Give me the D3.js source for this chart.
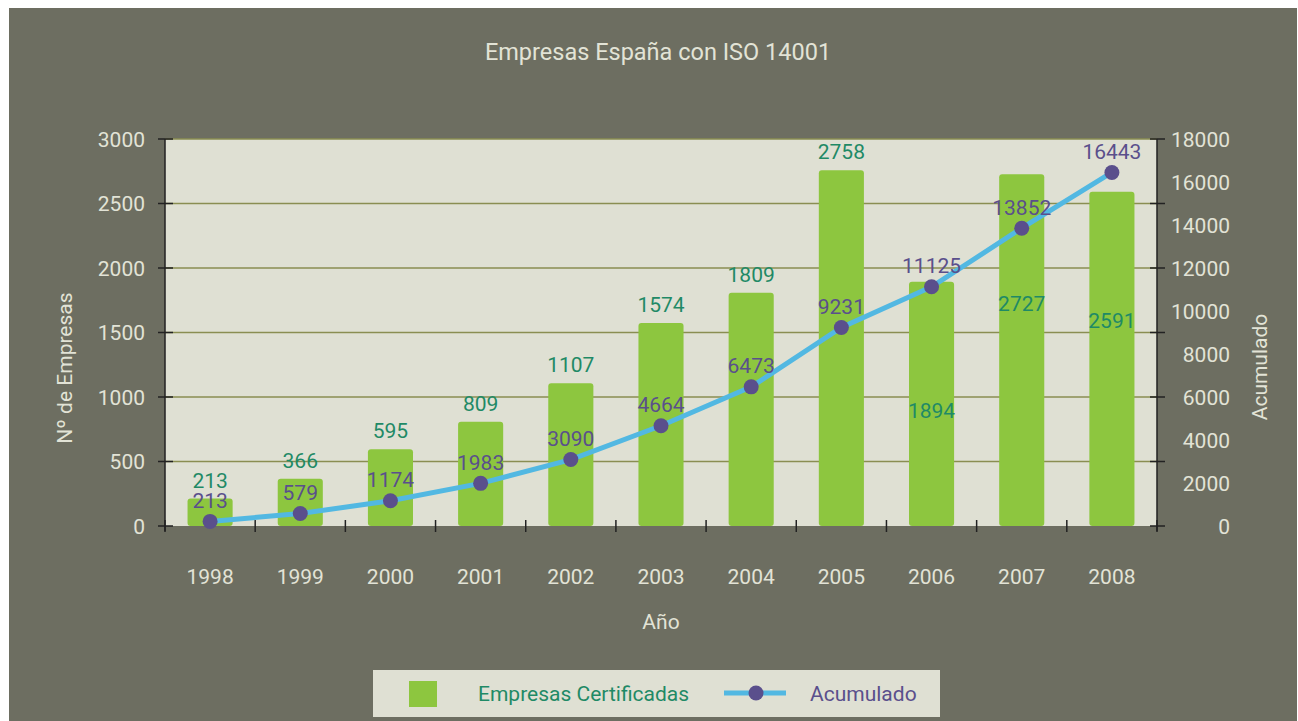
<!DOCTYPE html>
<html>
<head>
<meta charset="utf-8">
<script src="https://cdn.jsdelivr.net/npm/d3@7"></script>
<style>
  html,body{margin:0;padding:0;background:#fff;}
  svg text{font-family:Roboto,"DejaVu Sans Condensed",sans-serif;font-weight:400;}
</style>
</head>
<body>
<div id="chart"></div>
<script>
const anios = ['1998','1999','2000','2001','2002','2003','2004','2005','2006','2007','2008'];
const certificadas = [213,366,595,809,1107,1574,1809,2758,1894,2727,2591];
const acumulado = [213,579,1174,1983,3090,4664,6473,9231,11125,13852,16443];
const ticksIzq = [0,500,1000,1500,2000,2500,3000];
const ticksDer = [0,2000,4000,6000,8000,10000,12000,14000,16000,18000];

const W=1298,H=721;
const m={t:139,l:165,r:141,b:195}, iw=W-m.l-m.r, ih=H-m.t-m.b;
const cTxt='#e2e3d6', cVerde='#1f8a66', cMorado='#5a4f8c';

const svg=d3.select('#chart').append('svg').attr('width',W).attr('height',H);
svg.append('rect').attr('x',9).attr('y',8).attr('width',W-10).attr('height',H-8).attr('fill','#6d6e61');

svg.append('text').attr('x',658).attr('y',60).attr('text-anchor','middle')
  .attr('fill',cTxt).style('font-size','23.5px').text('Empresas España con ISO 14001');

const g=svg.append('g').attr('transform',`translate(${m.l},${m.t})`);
g.append('rect').attr('width',iw).attr('height',ih).attr('fill','#dfe0d3');

const x=d3.scaleBand().domain(anios).range([0,iw]).paddingInner(0.5).paddingOuter(0.25);
const y=d3.scaleLinear().domain([0,3000]).range([ih,0]);
const y2=d3.scaleLinear().domain([0,18000]).range([ih,0]);

// gridlines
g.selectAll('.grid').data(ticksIzq.filter(d=>d>0)).join('line')
  .attr('x1',0).attr('x2',iw).attr('y1',d=>y(d)).attr('y2',d=>y(d))
  .attr('stroke','#8a8e52').attr('stroke-width',1.5);

// bars
g.selectAll('.bar').data(certificadas).join('rect')
  .attr('x',(d,i)=>x(anios[i])).attr('y',d=>y(d))
  .attr('width',x.bandwidth()).attr('height',d=>ih-y(d))
  .attr('rx',3).attr('fill','#8dc63f');

// axes
const eje='#222';
g.append('line').attr('x1',0).attr('x2',0).attr('y1',0).attr('y2',ih+5).attr('stroke',eje).attr('stroke-width',1.5);
g.append('line').attr('x1',iw).attr('x2',iw).attr('y1',0).attr('y2',ih+5).attr('stroke',eje).attr('stroke-width',1.5);
g.selectAll('.tl').data(ticksIzq).join('line')
  .attr('x1',-7).attr('x2',8).attr('y1',d=>y(d)).attr('y2',d=>y(d)).attr('stroke',eje).attr('stroke-width',1.5);
g.selectAll('.tr').data(ticksIzq).join('line')
  .attr('x1',iw-7).attr('x2',iw+8).attr('y1',d=>y(d)).attr('y2',d=>y(d)).attr('stroke',eje).attr('stroke-width',1.5);
g.selectAll('.lblI').data(ticksIzq).join('text')
  .attr('x',-20).attr('y',d=>y(d)+7.5).attr('text-anchor','end')
  .attr('fill',cTxt).style('font-size','21px').text(d=>d);
g.selectAll('.lblD').data(ticksDer).join('text')
  .attr('x',iw+73).attr('y',d=>y2(d)+7.5).attr('text-anchor','end')
  .attr('fill',cTxt).style('font-size','21px').text(d=>d);

// x axis
const step=x.step();
g.selectAll('.tx').data(d3.range(anios.length+1)).join('line')
  .attr('x1',i=>i*step).attr('x2',i=>i*step).attr('y1',ih-6).attr('y2',ih+6)
  .attr('stroke',eje).attr('stroke-width',1.5);
g.selectAll('.lblX').data(anios).join('text')
  .attr('x',d=>x(d)+x.bandwidth()/2).attr('y',ih+58).attr('text-anchor','middle')
  .attr('fill',cTxt).style('font-size','21px').text(d=>d);

g.append('text').attr('x',x('2003')+x.bandwidth()/2).attr('y',ih+103).attr('text-anchor','middle')
  .attr('fill',cTxt).style('font-size','21px').text('Año');
g.append('text').attr('transform',`translate(${72-m.l},${368-m.t}) rotate(-90)`).attr('text-anchor','middle')
  .attr('fill',cTxt).style('font-size','21px').text('Nº de Empresas');
g.append('text').attr('transform',`translate(${1267-m.l},${367-m.t}) rotate(-90)`).attr('text-anchor','middle')
  .attr('fill',cTxt).style('font-size','21px').text('Acumulado');

// line
const cx=i=>x(anios[i])+x.bandwidth()/2;
const linea=d3.line().x((d,i)=>cx(i)).y(d=>y2(d));
g.append('path').attr('d',linea(acumulado)).attr('fill','none')
  .attr('stroke','#52b8e2').attr('stroke-width',5);
g.selectAll('.pt').data(acumulado).join('circle')
  .attr('cx',(d,i)=>cx(i)).attr('cy',d=>y2(d)).attr('r',7.5).attr('fill',cMorado);

// bar labels (the last three sit inside the bar)
const dentro=new Set(['2006','2007','2008']);
g.selectAll('.vb').data(certificadas).join('text')
  .attr('x',(d,i)=>cx(i))
  .attr('y',(d,i)=>dentro.has(anios[i]) ? y(d)+136.5 : y(d)-11)
  .attr('text-anchor','middle').attr('fill',cVerde).style('font-size','21px').text(d=>d);
g.selectAll('.va').data(acumulado).join('text')
  .attr('x',(d,i)=>cx(i)).attr('y',d=>y2(d)-13.5)
  .attr('text-anchor','middle').attr('fill',cMorado).style('font-size','21px').text(d=>d);

// legend
const lg=svg.append('g').attr('transform','translate(373,670)');
lg.append('rect').attr('width',567).attr('height',47).attr('fill','#dfe0d3');
lg.append('rect').attr('x',36).attr('y',11).attr('width',28).attr('height',26).attr('fill','#8dc63f');
lg.append('text').attr('x',105).attr('y',30.5).attr('fill',cVerde).style('font-size','21px').text('Empresas Certificadas');
lg.append('line').attr('x1',351).attr('x2',413).attr('y1',23).attr('y2',23).attr('stroke','#52b8e2').attr('stroke-width',5);
lg.append('circle').attr('cx',383).attr('cy',23).attr('r',7.5).attr('fill',cMorado);
lg.append('text').attr('x',437).attr('y',30.5).attr('fill',cMorado).style('font-size','21px').text('Acumulado');
</script>
</body>
</html>
